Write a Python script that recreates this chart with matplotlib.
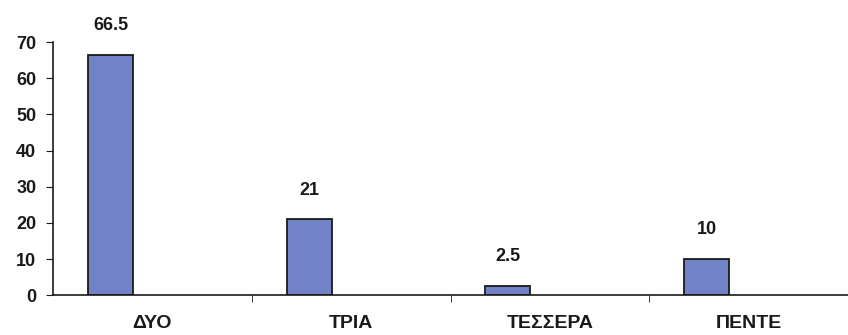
import matplotlib.pyplot as plt
import numpy as np

plt.rcParams['font.family'] = ['Liberation Sans', 'DejaVu Sans']

# answers per category
categories = ['ΔΥΟ', 'ΤΡΙΑ', 'ΤΕΣΣΕΡΑ', 'ΠΕΝΤΕ']
values = [66.5, 21, 2.5, 10]
y_ticks = [0, 10, 20, 30, 40, 50, 60, 70]

fig = plt.figure(figsize=(8.48, 3.35), dpi=100)
ax = fig.add_axes([0.0625, 0.119, 0.9375, 0.755])

x = np.arange(len(categories))
width = 0.226
bars = ax.bar(x - 0.211, values, width, color='#7282c6', edgecolor='#1a1a1a', linewidth=1.3)

for rect, v in zip(bars, values):
    ax.annotate(f'{v:g}', (rect.get_x() + rect.get_width() / 2, v),
                xytext=(0, 21), textcoords='offset points',
                ha='center', va='center', fontsize=13, fontweight='bold',
                color='#1a1a1a', annotation_clip=False)

ax.set_xlim(-0.5, len(categories) - 0.5)
ax.set_ylim(0, 70)
ax.set_yticks(y_ticks)
ax.set_xticks(x)
ax.set_xticklabels(categories, fontsize=14, fontweight='bold', color='#1a1a1a')
ax.set_xticks(x[:-1] + 0.5, minor=True)
ax.tick_params(axis='x', which='major', length=0, pad=14)
ax.tick_params(axis='x', which='minor', length=5, direction='out', color='#1a1a1a')
ax.tick_params(axis='y', length=5, direction='out', color='#1a1a1a', labelsize=13, pad=7)
for lbl in ax.get_yticklabels():
    lbl.set_fontweight('bold')
    lbl.set_color('#1a1a1a')

for side in ['top', 'right']:
    ax.spines[side].set_visible(False)
for side in ['left', 'bottom']:
    ax.spines[side].set_color('#1a1a1a')
    ax.spines[side].set_linewidth(1.2)

fig.savefig('out.png', dpi=100)
